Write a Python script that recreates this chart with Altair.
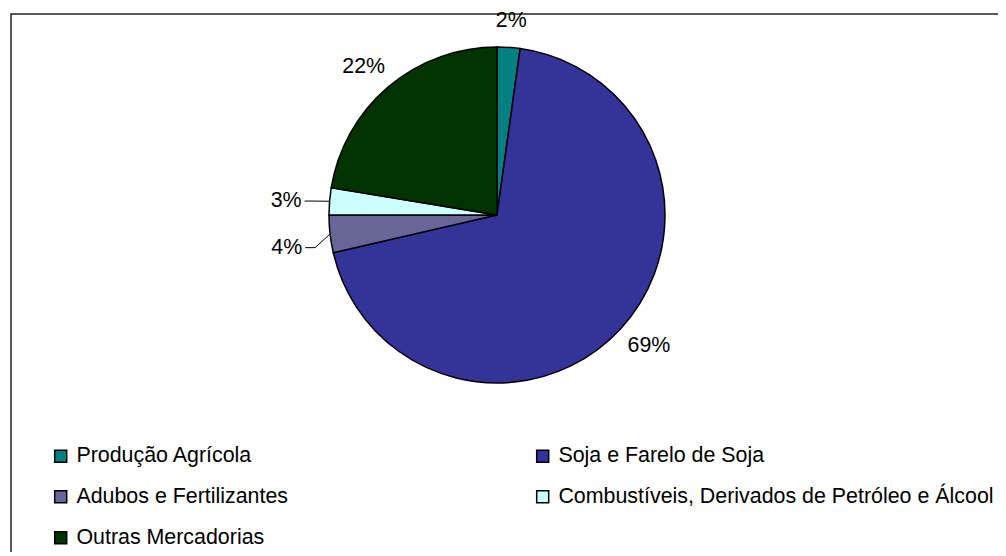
import altair as alt
import pandas as pd

categories = [
    "Produção Agrícola",
    "Soja e Farelo de Soja",
    "Adubos e Fertilizantes",
    "Combustíveis, Derivados de Petróleo e Álcool",
    "Outras Mercadorias",
]
shares = [2.2, 69.2, 3.6, 2.6, 22.4]
colors = ["#008080", "#333399", "#666699", "#CCFFFF", "#003300"]
leader_cats = ["Adubos e Fertilizantes", "Combustíveis, Derivados de Petróleo e Álcool"]

df = pd.DataFrame({"cat": categories, "value": shares, "idx": list(range(len(categories)))})

# the legend fills column by column: reorder so it reads row by row (2 columns)
legend_order = categories[0::2] + categories[1::2]
legend_colors = colors[0::2] + colors[1::2]

W, H = 990, 544
CX, CY = 489, 207
R = 168
RL = 186
FONT = "Liberation Sans"
FS = 21.4

base = (
    alt.Chart(df)
    .transform_joinaggregate(total="sum(value)")
    .transform_window(cum="sum(value)", sort=[alt.SortField("idx")])
    .transform_calculate(
        mid="(datum.cum - datum.value/2)/datum.total*2*PI",
        pct="format(datum.value/datum.total, '.0%')",
    )
)

frame = alt.Chart(pd.DataFrame({"a": [0]})).mark_rect(
    filled=False, stroke="#222222", strokeWidth=1.5
).encode(x=alt.value(3), y=alt.value(6), x2=alt.value(W + 20), y2=alt.value(H + 20))

pie = alt.Chart(df).mark_arc(outerRadius=R, stroke="black", strokeWidth=1.5).encode(
    theta=alt.Theta("value:Q", stack=True),
    color=alt.Color(
        "cat:N",
        scale=alt.Scale(domain=legend_order, range=legend_colors),
        sort=legend_order,
        legend=alt.Legend(
            orient="none",
            legendX=42,
            legendY=437,
            columns=2,
            columnPadding=243,
            rowPadding=18,
            symbolType="square",
            symbolSize=144,
            symbolStrokeColor="black",
            symbolStrokeWidth=1.5,
            symbolOpacity=1,
            labelFontSize=FS,
            labelFont=FONT,
            labelColor="black",
            labelOffset=5,
            labelLimit=600,
            title=None,
            padding=0,
        ),
    ),
    order=alt.Order("idx:Q"),
    x=alt.value(CX),
    y=alt.value(CY),
)

is_small = alt.FieldOneOfPredicate(field="cat", oneOf=leader_cats)

big = (
    base.transform_filter(~is_small)
    .transform_calculate(
        lx=f"{CX} + {RL + 20}*sin(datum.mid)",
        ly=f"{CY} - {RL + 8}*cos(datum.mid)",
    )
    .mark_text(font=FONT, fontSize=FS, color="black", baseline="middle", align="center")
    .encode(
        x=alt.X("lx:Q", scale=None, axis=None),
        y=alt.Y("ly:Q", scale=None, axis=None),
        text="pct:N",
    )
)

small = base.transform_filter(is_small).transform_calculate(
    sx=f"{CX} + {R}*sin(datum.mid)",
    sy=f"{CY} - {R}*cos(datum.mid)",
    ex=f"{CX} + {R + 15}*sin(datum.mid)",
    ey=f"{CY} - {R + 15}*cos(datum.mid) + (datum.mid < 1.5*PI ? 12 : 1)",
    tx="datum.ex - 10",
    lbx="datum.ex - 13",
)

lead1 = small.mark_rule(color="black", strokeWidth=1).encode(
    x=alt.X("sx:Q", scale=None, axis=None),
    y=alt.Y("sy:Q", scale=None, axis=None),
    x2="ex:Q",
    y2="ey:Q",
)
lead2 = small.mark_rule(color="black", strokeWidth=1).encode(
    x=alt.X("ex:Q", scale=None, axis=None),
    y=alt.Y("ey:Q", scale=None, axis=None),
    x2="tx:Q",
    y2="ey:Q",
)
small_txt = small.mark_text(font=FONT, fontSize=FS, color="black", baseline="middle", align="right").encode(
    x=alt.X("lbx:Q", scale=None, axis=None),
    y=alt.Y("ey:Q", scale=None, axis=None),
    text="pct:N",
)

chart = (
    alt.layer(frame, pie, lead1, lead2, small_txt, big)
    .properties(width=W, height=H, autosize="none", padding=0, background="white")
    .configure_view(strokeWidth=0)
)

chart.save("out.html", embed_options={"renderer": "svg", "actions": False})
